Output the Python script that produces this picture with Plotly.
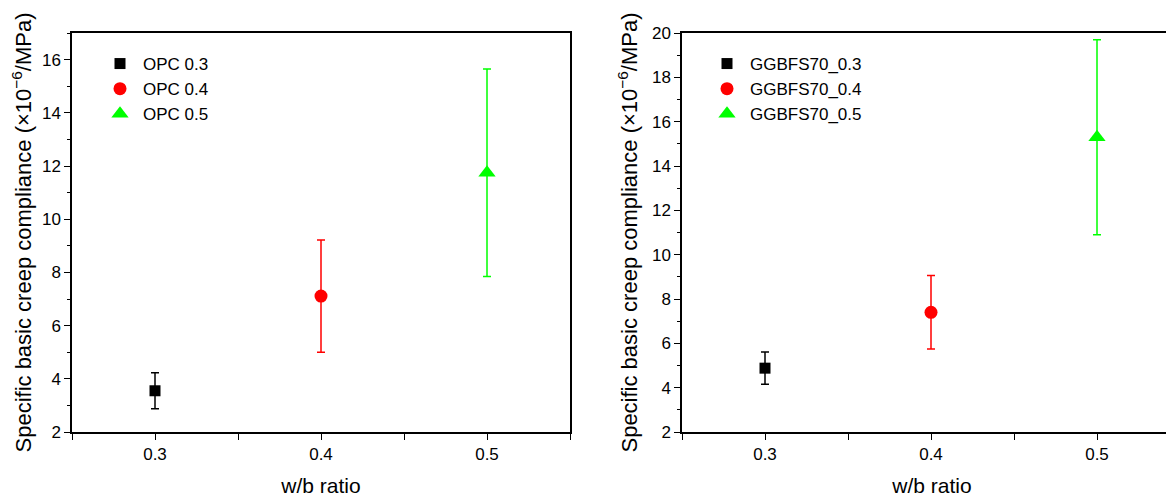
import plotly.graph_objects as go

# ---- data ----
wb = [0.3, 0.4, 0.5]

opc_labels = ["OPC 0.3", "OPC 0.4", "OPC 0.5"]
opc_mean = [3.55, 7.11, 11.75]
opc_err = [0.68, 2.11, 3.90]

gg_labels = ["GGBFS70_0.3", "GGBFS70_0.4", "GGBFS70_0.5"]
gg_mean = [4.88, 7.40, 15.30]
gg_err = [0.73, 1.66, 4.40]

colors = ["#000000", "#FF0000", "#00FF00"]
symbols = ["square", "circle", "triangle-up"]
sizes = [11, 13, 15]

W, H = 1174, 498
OFF = 8  # default page body margin shifts the figure
FONT = "Liberation Sans, Arial, sans-serif"


def px(x):
    return (x - OFF) / W


def py(y):
    return 1 - (y - OFF) / H


fig = go.Figure()

for i in range(3):
    fig.add_trace(go.Scatter(
        x=[wb[i]], y=[opc_mean[i]], mode="markers", name=opc_labels[i],
        marker=dict(symbol=symbols[i], size=sizes[i], color=colors[i]),
        error_y=dict(type="data", array=[opc_err[i]], color=colors[i],
                     thickness=1.5, width=4),
        xaxis="x", yaxis="y", legend="legend"))

for i in range(3):
    fig.add_trace(go.Scatter(
        x=[wb[i]], y=[gg_mean[i]], mode="markers", name=gg_labels[i],
        marker=dict(symbol=symbols[i], size=sizes[i], color=colors[i]),
        error_y=dict(type="data", array=[gg_err[i]], color=colors[i],
                     thickness=1.5, width=4),
        xaxis="x2", yaxis="y2", legend="legend2"))

ytitle = "Specific basic creep compliance (×10<sup>−6</sup>/MPa)"

xcommon = dict(
    tickvals=[0.3, 0.4, 0.5], ticktext=["0.3", "0.4", "0.5"],
    ticks="outside", ticklen=6, tickwidth=1.2, tickcolor="black",
    minor=dict(tick0=0.25, dtick=0.05, ticks="outside", ticklen=6,
               tickwidth=1.2, tickcolor="black"),
    showline=True, linecolor="black", linewidth=1.5, mirror=True,
    showgrid=False, zeroline=False,
    tickfont=dict(size=17, color="black", family=FONT),
    title=dict(text="w/b ratio", font=dict(size=21, color="black", family=FONT),
               standoff=15),
)
ycommon = dict(
    dtick=2, ticks="outside", ticklen=6, tickwidth=1.2, tickcolor="black",
    minor=dict(dtick=1, ticks="outside", ticklen=3, tickwidth=1.2,
               tickcolor="black"),
    showline=True, linecolor="black", linewidth=1.5,
    showgrid=False, zeroline=False,
    tickfont=dict(size=17, color="black", family=FONT),
    title=dict(text=ytitle, font=dict(size=22, color="black", family=FONT),
               standoff=8),
)

ydom = [py(432), py(33)]

fig.update_layout(
    width=W, height=H,
    margin=dict(l=0, r=0, t=0, b=0, autoexpand=False),
    paper_bgcolor="white", plot_bgcolor="white",
    font=dict(family=FONT, color="black"),
    xaxis=dict(domain=[px(72), px(570)], range=[0.25, 0.55], anchor="y", **xcommon),
    yaxis=dict(domain=ydom, range=[2, 17], anchor="x", mirror=True, **ycommon),
    xaxis2=dict(domain=[px(682), 1.0],
                range=[0.25, 0.25 + 0.3 * (W + OFF - 682) / 498],
                anchor="y2", **xcommon),
    yaxis2=dict(domain=ydom, range=[2, 20], anchor="x2", mirror=False, **ycommon),
    legend=dict(x=px(97), y=py(46), xanchor="left", yanchor="top",
                bgcolor="rgba(0,0,0,0)", font=dict(size=17, family=FONT, color="black"),
                itemsizing="trace", itemwidth=36, tracegroupgap=0),
    legend2=dict(x=px(704), y=py(46), xanchor="left", yanchor="top",
                 bgcolor="rgba(0,0,0,0)", font=dict(size=17, family=FONT, color="black"),
                 itemsizing="trace", itemwidth=36, tracegroupgap=0),
    showlegend=True,
)

fig.write_html("out.html")
